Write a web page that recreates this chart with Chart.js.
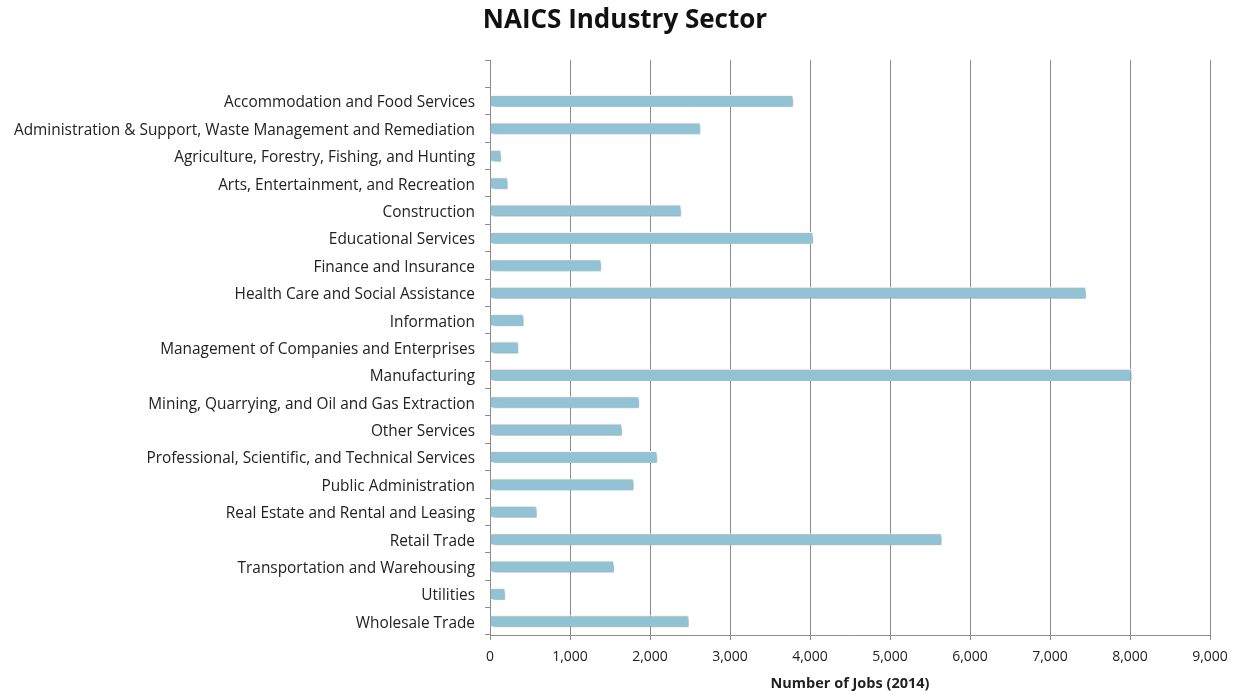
<!DOCTYPE html>
<html>
<head>
<meta charset="utf-8">
<script src="https://cdn.jsdelivr.net/npm/chart.js@4.4.0/dist/chart.umd.min.js"></script>
<style>
  html, body { margin: 0; padding: 0; background: #ffffff; }
  #wrap { width: 1234px; height: 694px; position: relative; }
</style>
</head>
<body>
<div id="wrap"><canvas id="c" width="1234" height="694"></canvas></div>
<script>
const chartTitle = "NAICS Industry Sector";
const xAxisTitle = "Number of Jobs (2014)";
const categories = [
  "",
  "Accommodation and Food Services",
  "Administration & Support, Waste Management and Remediation",
  "Agriculture, Forestry, Fishing, and Hunting",
  "Arts, Entertainment, and Recreation",
  "Construction",
  "Educational Services",
  "Finance and Insurance",
  "Health Care and Social Assistance",
  "Information",
  "Management of Companies and Enterprises",
  "Manufacturing",
  "Mining, Quarrying, and Oil and Gas Extraction",
  "Other Services",
  "Professional, Scientific, and Technical Services",
  "Public Administration",
  "Real Estate and Rental and Leasing",
  "Retail Trade",
  "Transportation and Warehousing",
  "Utilities",
  "Wholesale Trade"
];
const jobs = [
  null, 3790, 2630, 140, 220, 2390, 4040, 1390, 7450, 420, 355,
  8020, 1865, 1650, 2090, 1795, 585, 5645, 1550, 190, 2485
];
const xMin = 0, xMax = 9000, xStep = 1000;

const FONT = "'Open Sans', 'Liberation Sans', sans-serif";

const shadowPlugin = {
  id: 'barShadow',
  beforeDatasetsDraw(chart) {
    const ctx = chart.ctx;
    ctx.save();
    ctx.shadowColor = 'rgba(0,0,0,0.35)';
    ctx.shadowBlur = 3;
    ctx.shadowOffsetX = 2;
    ctx.shadowOffsetY = 2;
  },
  afterDatasetsDraw(chart) {
    chart.ctx.restore();
  }
};

const titlePlugin = {
  id: 'customTitle',
  afterDraw(chart) {
    const ctx = chart.ctx;
    ctx.save();
    ctx.font = "bold 26px " + FONT;
    ctx.fillStyle = '#111111';
    ctx.textAlign = 'center';
    ctx.textBaseline = 'middle';
    ctx.fillText(chartTitle, 625, 21);
    ctx.restore();
  }
};

new Chart(document.getElementById('c'), {
  type: 'bar',
  data: {
    labels: categories,
    datasets: [{
      data: jobs,
      backgroundColor: '#92C3D5',
      borderColor: '#F2F8FA',
      borderWidth: 1,
      barPercentage: 0.44,
      categoryPercentage: 1.0
    }]
  },
  plugins: [shadowPlugin, titlePlugin],
  options: {
    indexAxis: 'y',
    responsive: false,
    animation: false,
    devicePixelRatio: 1,
    layout: { padding: { top: 60, right: 24, left: 0, bottom: 0 } },
    plugins: {
      legend: { display: false },
      title: { display: false },
      tooltip: { enabled: false }
    },
    scales: {
      x: {
        min: xMin, max: xMax,
        ticks: {
          stepSize: xStep,
          color: '#222222',
          font: { family: FONT, size: 14 },
          padding: 9,
          callback: (v) => v.toLocaleString('en-US')
        },
        grid: {
          color: '#8C8C8C',
          lineWidth: 1,
          drawTicks: true,
          tickLength: 5
        },
        border: { display: true, color: '#8C8C8C', width: 1 },
        title: {
          display: true,
          text: xAxisTitle,
          color: '#222222',
          font: { family: FONT, size: 14.5, weight: 'bold' },
          padding: { top: 0, bottom: 1 }
        },
        afterFit: (s) => { s.height = 59; s.paddingLeft = 0; s.paddingRight = 0; }
      },
      y: {
        ticks: {
          color: '#222222',
          font: { family: FONT, size: 15.4 },
          padding: 10,
          labelOffset: 2,
          autoSkip: false
        },
        grid: {
          offset: true,
          drawOnChartArea: false,
          drawTicks: true,
          tickLength: 5,
          color: '#8C8C8C'
        },
        border: { display: true, color: '#8C8C8C', width: 1 },
        afterFit: (s) => { s.width = 490; }
      }
    }
  }
});
</script>
</body>
</html>
